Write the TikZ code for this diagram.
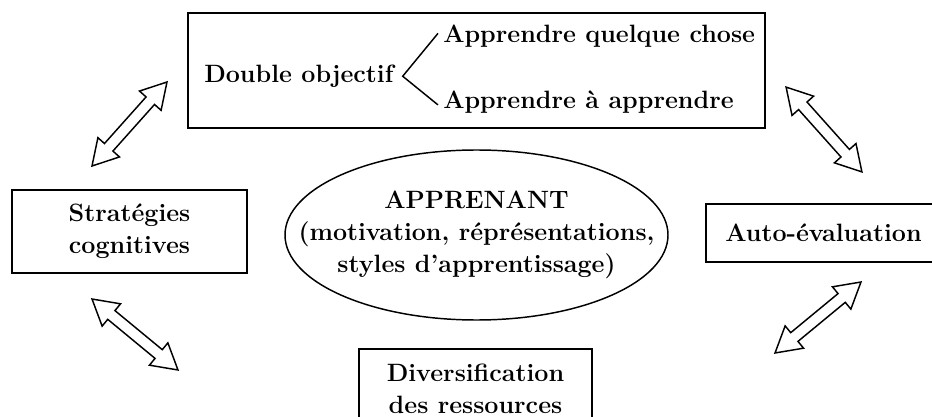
\documentclass[tikz,border=0pt]{standalone}
\usepackage{tikz}
\usetikzlibrary{shapes.geometric,shapes.arrows,calc}

\begin{document}
\begin{tikzpicture}[x=0.75pt,y=-0.75pt,every node/.style={font=\fontsize{18.8}{24}\selectfont\bfseries},box/.style={draw,line width=1.2pt,align=center,inner sep=0pt},txt/.style={inner sep=0pt},dblarrow/.style={double arrow,draw,line width=1.1pt,inner xsep=0pt,inner ysep=3.7pt,double arrow head extend=6.6pt,double arrow tip angle=60,sloped}]
            \useasboundingbox (0,0) rectangle (932,417);
            \clip (0,0) rectangle (932,417);
            \node[box,minimum width=432.75pt,minimum height=86.25pt] (objectif) at (476.5,70.5) {};
            \node[txt,anchor=base west] (double) at (204,82.5) {Double objectif};
            \node[txt,anchor=base west] (quelque) at (443,42.7) {Apprendre quelque chose};
            \node[txt,anchor=base west] (apprendre) at (443,108.3) {Apprendre à apprendre};
            \draw[line width=1.1pt] ($(quelque.west)+(-5,-3)$) -- ($(double.east)+(9,0)$) -- ($(apprendre.west)+(-5,3)$);
            \node[box,minimum width=176.25pt,minimum height=62.25pt] (strategies) at (129.5,231.5) {Stratégies\\cognitives};
            \node[draw,ellipse,line width=1.1pt,minimum width=287.25pt,minimum height=127.5pt,inner sep=0pt] (apprenant) at (476.5,235) {};
            \node[align=center,inner sep=0pt] (learner) at (apprenant.center) {APPRENANT\\(motivation, réprésentations,\\styles d'apprentissage)};
            \node[box,minimum width=176.25pt,minimum height=43.5pt] (autoeval) at (823.5,233) {Auto-évaluation};
            \node[box,minimum width=174.75pt,minimum height=60pt] (ressources) at (475.5,389) {Diversification\\des ressources};
            \coordinate (s1) at (92,166);   \coordinate (e1) at (167,82);
            \coordinate (s2) at (786,87);   \coordinate (e2) at (862,172);
            \coordinate (s3) at (92,299);   \coordinate (e3) at (178,370);
            \coordinate (s4) at (775,353);  \coordinate (e4) at (861,282);
            \foreach \i in {1,...,4}
                \path let \p1=($(e\i)-(s\i)$) in (s\i) -- node[dblarrow,minimum height={veclen(\x1,\y1)}] {} (e\i);
        \end{tikzpicture}
\end{document}
